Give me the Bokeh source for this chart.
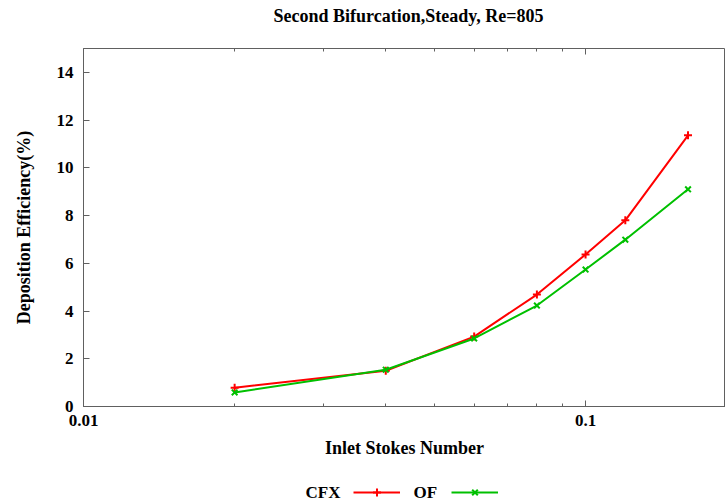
from bokeh.plotting import figure
from bokeh.layouts import column
from bokeh.models import (Range1d, FixedTicker, CustomJSTickFormatter, LogAxis,
                          Legend, LegendItem, Label)
from bokeh.embed import file_html
from bokeh.resources import INLINE

# ---- data ----
stokes = [0.02, 0.04, 0.06, 0.08, 0.1, 0.12, 0.16]
cfx = [0.79, 1.50, 2.93, 4.69, 6.37, 7.80, 11.36]
of = [0.59, 1.54, 2.85, 4.23, 5.74, 6.99, 9.10]
x_major = [0.01, 0.1]
x_minor = [0.02, 0.03, 0.04, 0.05, 0.06, 0.07, 0.08, 0.09, 0.2]
y_ticks = [0, 2, 4, 6, 8, 10, 12, 14]
title_text = "Second Bifurcation,Steady, Re=805"
x_label = "Inlet Stokes Number"
y_label = "Deposition Efficiency(%)"
series_names = ["CFX", "OF"]

FONT = "Liberation Serif"
FS = "17px"
FL = "18px"
RED = "#ff0000"
GREEN = "#00c000"
AX = "#606060"
NAN = float("nan")


def strip(h):
    s = figure(width=725, height=h, x_range=Range1d(0, 1), y_range=Range1d(0, 1),
               output_backend="svg", toolbar_location=None,
               min_border_left=0, min_border_right=0, min_border_top=0,
               min_border_bottom=0)
    s.axis.visible = False
    s.xgrid.visible = False
    s.ygrid.visible = False
    s.outline_line_color = None
    return s


# ---- title strip (frame is aligned with the main plot frame, left = 83) ----
top_strip = strip(30)
top_strip.add_layout(Label(x=325, y=15, x_units="screen", y_units="screen",
                           text=title_text, text_font=FONT, text_font_style="bold",
                           text_font_size=FL, text_align="center",
                           text_baseline="middle", text_color="black"))

# ---- main plot ----
p = figure(width=725, height=440, x_axis_type="log",
           x_range=Range1d(0.01, 0.19), y_range=Range1d(0, 15),
           output_backend="svg", toolbar_location=None,
           min_border_left=83, min_border_right=0,
           min_border_top=18, min_border_bottom=64)

p.xgrid.visible = False
p.ygrid.visible = False
p.outline_line_color = AX
p.outline_line_width = 1
p.background_fill_color = "white"
p.border_fill_color = "white"

xt = FixedTicker(ticks=x_major, minor_ticks=x_minor)
fmt = CustomJSTickFormatter(code="return tick.toString();")

xa = p.xaxis[0]
xa.ticker = xt
xa.formatter = fmt
ya = p.yaxis[0]
ya.ticker = FixedTicker(ticks=y_ticks)

for ax in (xa, ya):
    ax.axis_line_color = AX
    ax.major_tick_line_color = AX
    ax.minor_tick_line_color = AX
    ax.major_tick_in = 6
    ax.major_tick_out = 0
    ax.minor_tick_in = 3
    ax.minor_tick_out = 0
    ax.major_label_text_font = FONT
    ax.major_label_text_font_style = "bold"
    ax.major_label_text_font_size = FS
    ax.major_label_text_color = "black"
    ax.axis_label_text_font = FONT
    ax.axis_label_text_font_style = "bold"
    ax.axis_label_text_font_size = FL
    ax.axis_label_text_color = "black"
ya.minor_tick_line_color = None

xa.axis_label = x_label
ya.axis_label = y_label
xa.major_label_standoff = 8
xa.axis_label_standoff = 9
ya.major_label_standoff = 10
ya.axis_label_standoff = 20

top = LogAxis(ticker=xt, formatter=CustomJSTickFormatter(code="return '';"),
              axis_line_color=None,
              major_tick_line_color=AX, minor_tick_line_color=AX,
              major_tick_in=6, major_tick_out=0, minor_tick_in=3, minor_tick_out=0,
              major_label_standoff=0)
p.add_layout(top, "above")

p.line(stokes, cfx, line_color=RED, line_width=2)
p.scatter(stokes, cfx, marker="cross", size=8, line_color=RED, line_width=2)
p.line(stokes, of, line_color=GREEN, line_width=2)
p.scatter(stokes, of, marker="x", size=8, line_color=GREEN, line_width=2)

# ---- legend strip (gnuplot style: name, then sample) ----
leg = strip(33)
styles = [(RED, "cross"), (GREEN, "x")]
items = []
for name, (col, mk), tx in zip(series_names, styles, [222, 330]):
    lr = leg.line(x=[NAN], y=[NAN], line_color=col, line_width=2)
    sr = leg.scatter(x=[NAN], y=[NAN], marker=mk, size=7, line_color=col, line_width=2)
    items.append(LegendItem(label="", renderers=[lr, sr]))
    leg.add_layout(Label(x=tx, y=11, x_units="screen", y_units="screen",
                         text=name, text_font=FONT, text_font_style="bold",
                         text_font_size=FS, text_baseline="middle",
                         text_color="black"))
legend = Legend(items=items, orientation="horizontal", location=(270, 1),
                glyph_width=47, glyph_height=20, label_standoff=0, spacing=31,
                padding=0, margin=0, border_line_color=None,
                background_fill_alpha=0)
leg.add_layout(legend)

layout = column(top_strip, p, leg, spacing=0)
open("out.html", "w").write(file_html(layout, INLINE))
